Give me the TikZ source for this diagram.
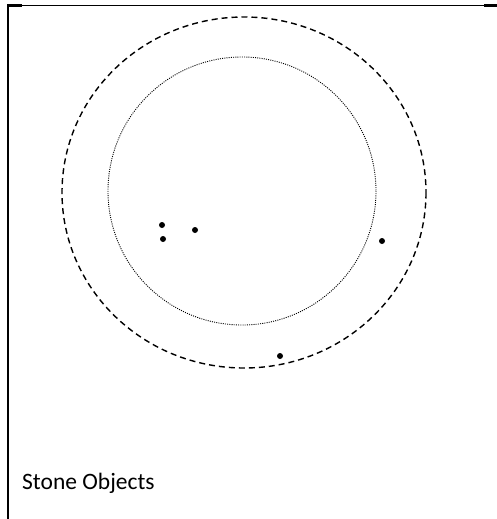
\documentclass[tikz,border=0pt]{standalone}
\usepackage{fontspec}
\setmainfont{Carlito}
\usetikzlibrary{positioning}
\tikzset{
  frameline/.style={line width=1pt, black},
  frameedge/.style={line width=2.2pt, black},
  outerring/.style={draw, line width=1.4pt, dash pattern=on 6pt off 4pt},
  innerring/.style={draw, line width=0.9pt, dash pattern=on 1pt off 1.2pt},
  stone/.style={circle, fill=black, inner sep=0pt, minimum size=6pt},
  caption/.style={anchor=base west, font=\fontsize{23.5}{28}\selectfont, inner sep=0pt},
}
\begin{document}
\begin{tikzpicture}[x=1pt, y=-1pt]
  \useasboundingbox (0,0) rectangle (497,519);
  % frame
  \draw[frameline] (7,5.5) -- (497,5.5);
  \draw[frameedge] (7,5.5) -- (22,5.5);
  \draw[frameedge] (484,5.5) -- (497,5.5);
  \draw[frameedge] (8,4.5) -- (8,519);
  % rings
  \path[outerring] (244,192.5) ellipse [x radius=182, y radius=175.5];
  \path[innerring] (242,191) circle [radius=134];
  % stones
  \node[stone] (s1) at (162,225) {};
  \node[stone] (s2) at (163,239) {};
  \node[stone] (s3) at (195,230) {};
  \node[stone] (s4) at (382,241) {};
  \node[stone] (s5) at (280,356) {};
  \node[caption] (label) at (22,489) {Stone Objects};
\end{tikzpicture}
\end{document}
